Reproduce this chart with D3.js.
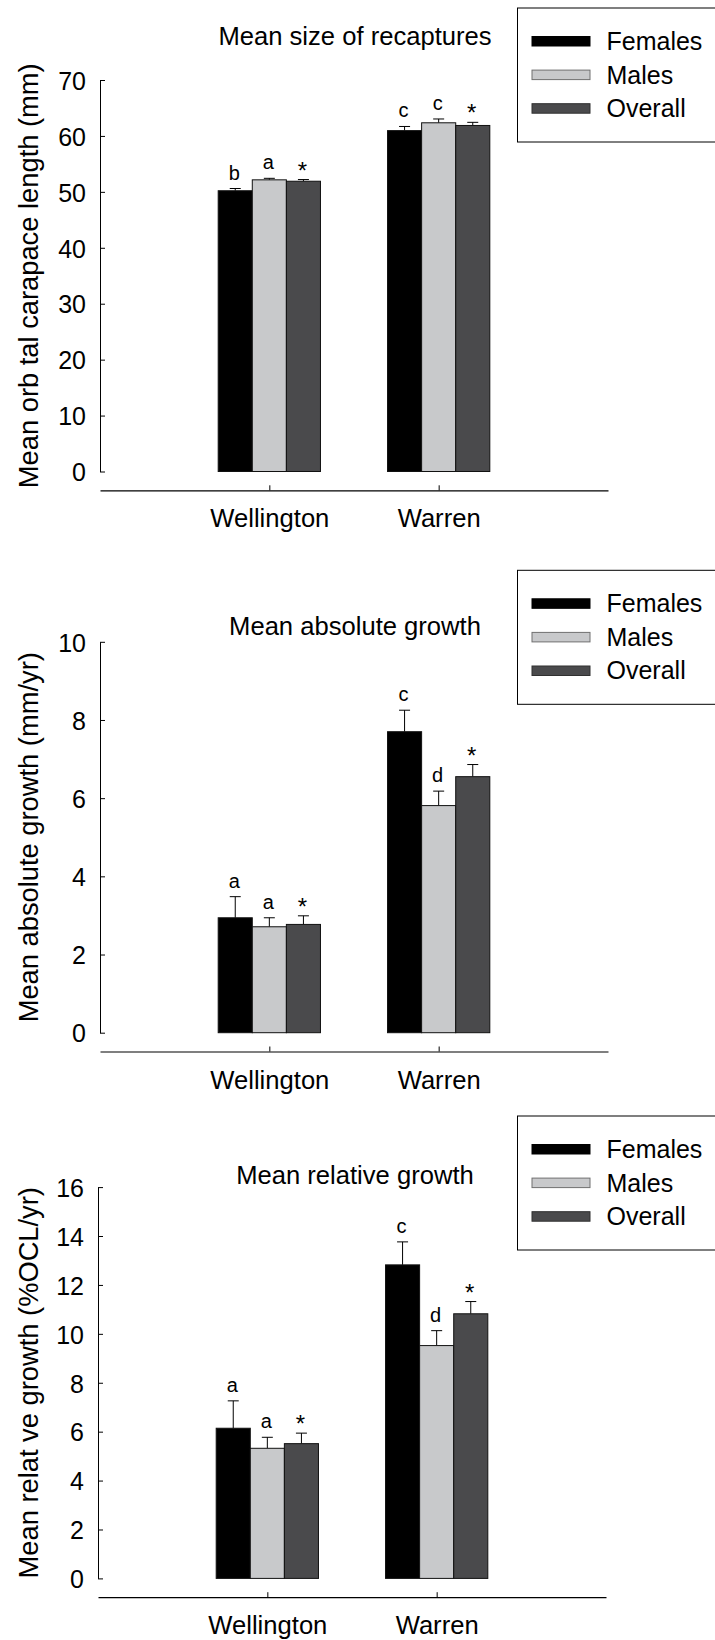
<!DOCTYPE html>
<html>
<head>
<meta charset="utf-8">
<script src="https://cdn.jsdelivr.net/npm/d3@7"></script>
<style>
  html, body { margin: 0; padding: 0; background: #fff; }
  svg { display: block; font-family: "Liberation Sans", Arial, Helvetica, sans-serif; }
</style>
</head>
<body>
<svg id="chart" width="715" height="1640"></svg>
<script>
// ---------- data ----------
const categories = ["Wellington", "Warren"];
const seriesNames = ["Females", "Males", "Overall"];

// Panel 1: mean size of recaptures (mm)
const sizeFemales = [50.2, 60.95];
const sizeMales = [52.15, 62.35];
const sizeOverall = [51.9, 61.87];
const sizeFemalesErr = [0.4, 0.74];
const sizeMalesErr = [0.27, 0.68];
const sizeOverallErr = [0.3, 0.56];
const sizeLetters = [["b", "a", "*"], ["c", "c", "*"]];
const sizeTicks = [0, 10, 20, 30, 40, 50, 60, 70];

// Panel 2: mean absolute growth (mm/yr)
const absFemales = [2.94, 7.70];
const absMales = [2.71, 5.81];
const absOverall = [2.77, 6.55];
const absFemalesErr = [0.54, 0.55];
const absMalesErr = [0.23, 0.37];
const absOverallErr = [0.22, 0.31];
const absLetters = [["a", "a", "*"], ["c", "d", "*"]];
const absTicks = [0, 2, 4, 6, 8, 10];

// Panel 3: mean relative growth (%OCL/yr)
const relFemales = [6.14, 12.82];
const relMales = [5.32, 9.52];
const relOverall = [5.51, 10.82];
const relFemalesErr = [1.12, 0.94];
const relMalesErr = [0.45, 0.61];
const relOverallErr = [0.43, 0.50];
const relLetters = [["a", "a", "*"], ["c", "d", "*"]];
const relTicks = [0, 2, 4, 6, 8, 10, 12, 14, 16];

const panelTitles = ["Mean size of recaptures", "Mean absolute growth", "Mean relative growth"];
const yTitles = ["Mean orb tal carapace length (mm)", "Mean absolute growth  (mm/yr)", "Mean relat ve growth  (%OCL/yr)"];

// ---------- styles ----------
const colors = { Females: "#000000", Males: "#c8c9cb", Overall: "#4a4a4c" };
const legendStroke = { Females: "#000000", Males: "#707070", Overall: "#303030" };

// ---------- layout ----------
const panels = [
  { means: [sizeFemales, sizeMales, sizeOverall], errs: [sizeFemalesErr, sizeMalesErr, sizeOverallErr],
    letters: sizeLetters, ticks: sizeTicks, title: panelTitles[0], yTitle: yTitles[0],
    top: 80, bottom: 471.5, titleY: 44.5, legendTop: 7.5, dx: 0 },
  { means: [absFemales, absMales, absOverall], errs: [absFemalesErr, absMalesErr, absOverallErr],
    letters: absLetters, ticks: absTicks, title: panelTitles[1], yTitle: yTitles[1],
    top: 641.8, bottom: 1032.7, titleY: 634.6, legendTop: 569.8, dx: 0 },
  { means: [relFemales, relMales, relOverall], errs: [relFemalesErr, relMalesErr, relOverallErr],
    letters: relLetters, ticks: relTicks, title: panelTitles[2], yTitle: yTitles[2],
    top: 1187.1, bottom: 1578.4, titleY: 1183.7, legendTop: 1115.5, dx: -2 }
];

const svg = d3.select("#chart");

panels.forEach(p => {
  const g = svg.append("g").attr("transform", `translate(${p.dx},0)`);
  const xLeft = 100, xRight = 608;
  const x = d3.scalePoint().domain(categories).range([xLeft, xRight]).padding(1);
  const groupW = x.step() * 0.604;
  const xs = d3.scaleBand().domain(seriesNames).range([-groupW / 2, groupW / 2]).padding(0);
  const yMax = d3.max(p.ticks);
  const y = d3.scaleLinear().domain([0, yMax]).range([p.bottom, p.top]);

  // y axis (ticks inward)
  const yAxis = g.append("g")
    .attr("transform", `translate(${xLeft},0)`)
    .call(d3.axisLeft(y).tickValues(p.ticks).tickSizeInner(-5).tickSizeOuter(0).tickPadding(14).tickFormat(d3.format("d")));
  yAxis.select(".domain").attr("stroke", "#000").attr("stroke-width", 1);
  yAxis.selectAll(".tick line").attr("stroke", "#000");
  yAxis.selectAll(".tick text")
    .attr("x", -14).attr("dy", "0.37em")
    .attr("font-size", 25).attr("fill", "#000")
    .attr("font-family", "'Liberation Sans', Arial, sans-serif");

  // x axis (offset below zero, ticks upward)
  const xAxisY = p.bottom + 18.8;
  const xAxis = g.append("g")
    .attr("transform", `translate(0,${xAxisY})`)
    .call(d3.axisBottom(x).tickSizeInner(-5).tickSizeOuter(0).tickPadding(19));
  xAxis.select(".domain").attr("stroke", "#000").attr("stroke-width", 1.2);
  xAxis.selectAll(".tick line").attr("stroke", "#000");
  xAxis.selectAll(".tick text")
    .attr("y", 19).attr("dy", "0.71em")
    .attr("font-size", 25.6).attr("fill", "#000")
    .attr("font-family", "'Liberation Sans', Arial, sans-serif");

  // bars
  const rows = [];
  categories.forEach((c, ci) => {
    seriesNames.forEach((s, si) => {
      rows.push({ cat: c, ser: s, v: p.means[si][ci], e: p.errs[si][ci], letter: p.letters[ci][si] });
    });
  });

  const bx = d => x(d.cat) + xs(d.ser);
  const cx = d => x(d.cat) + xs(d.ser) + xs.bandwidth() / 2;

  // error bars (drawn first so bars cover lower part)
  g.append("g").selectAll("line.err").data(rows).join("line")
    .attr("x1", cx).attr("x2", cx)
    .attr("y1", d => y(d.v)).attr("y2", d => y(d.v + d.e))
    .attr("stroke", "#000").attr("stroke-width", 1);
  g.append("g").selectAll("line.cap").data(rows).join("line")
    .attr("x1", d => cx(d) - 5.5).attr("x2", d => cx(d) + 5.5)
    .attr("y1", d => y(d.v + d.e)).attr("y2", d => y(d.v + d.e))
    .attr("stroke", "#000").attr("stroke-width", 1);

  g.append("g").selectAll("rect").data(rows).join("rect")
    .attr("x", bx)
    .attr("y", d => y(d.v))
    .attr("width", xs.bandwidth())
    .attr("height", d => y(0) - y(d.v))
    .attr("fill", d => colors[d.ser])
    .attr("stroke", "#111")
    .attr("stroke-width", 1);

  // significance letters
  g.append("g").selectAll("text").data(rows).join("text")
    .attr("x", d => cx(d) - 1)
    .attr("y", d => d.letter === "*" ? y(d.v + d.e) - 1 : y(d.v + d.e) - 9)
    .attr("text-anchor", "middle")
    .attr("font-size", d => d.letter === "*" ? 24 : 20)
    .attr("fill", "#000")
    .text(d => d.letter);

  // panel title
  svg.append("text")
    .attr("x", 355).attr("y", p.titleY)
    .attr("text-anchor", "middle")
    .attr("font-size", 25.6)
    .attr("fill", "#000")
    .text(p.title);

  // y-axis title
  svg.append("text")
    .attr("transform", `translate(38,${(p.top + p.bottom) / 2}) rotate(-90)`)
    .attr("text-anchor", "middle")
    .attr("font-size", 27.3)
    .attr("fill", "#000")
    .text(p.yTitle);

  // legend
  const lg = svg.append("g").attr("transform", `translate(517,${p.legendTop})`);
  lg.append("rect")
    .attr("x", 0.5).attr("y", 0.5)
    .attr("width", 260).attr("height", 134)
    .attr("fill", "#fff").attr("stroke", "#000").attr("stroke-width", 1);
  seriesNames.forEach((s, i) => {
    const yy = 29 + i * 33.6;
    lg.append("rect")
      .attr("x", 15).attr("y", yy)
      .attr("width", 58).attr("height", 9.5)
      .attr("fill", colors[s]).attr("stroke", legendStroke[s]).attr("stroke-width", 1);
    lg.append("text")
      .attr("x", 89.5).attr("y", yy + 13.5)
      .attr("font-size", 25)
      .attr("fill", "#000")
      .text(s);
  });
});
</script>
</body>
</html>
